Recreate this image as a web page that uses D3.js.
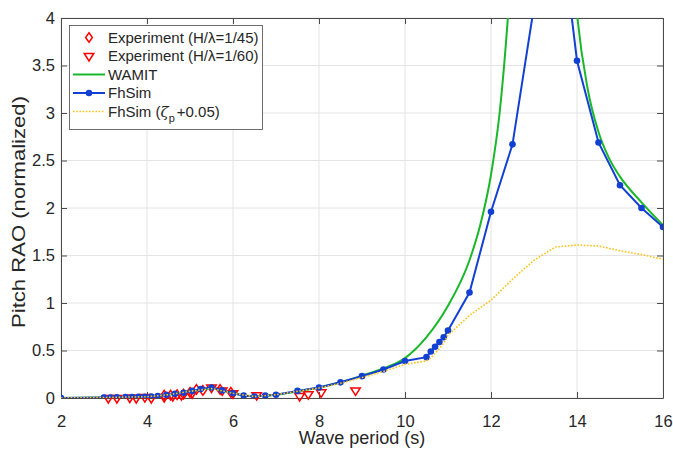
<!DOCTYPE html>
<html>
<head>
<meta charset="utf-8">
<script src="https://cdn.jsdelivr.net/npm/d3@7"></script>
<style>
  html, body { margin: 0; padding: 0; background: #fff; }
  svg { display: block; font-family: "Liberation Sans", Arial, Helvetica, sans-serif; }
</style>
</head>
<body>
<svg id="chart" width="673" height="450"></svg>
<script>
// Pitch RAO versus wave period: experiments, WAMIT and FhSim runs

// Experiment, H/lambda = 1/45 (diamonds)
const exp45Period = [4.4, 4.55, 4.7, 4.85, 5.0, 5.15, 5.3, 5.7, 5.95];
const exp45Value  = [0.03, 0.03, 0.035, 0.04, 0.06, 0.09, 0.08, 0.09, 0.06];

// Experiment, H/lambda = 1/60 (down triangles)
const exp60Period = [3.1, 3.3, 3.6, 3.75, 3.95, 4.1, 4.4, 4.6, 4.8, 5.05, 5.5, 5.75, 6.0, 6.55, 7.55, 7.75, 8.05, 8.85];
const exp60Value  = [0.0, 0.0, 0.005, 0.0, 0.01, 0.0, 0.01, 0.02, 0.03, 0.05, 0.11, 0.08, 0.05, 0.03, 0.02, 0.04, 0.06, 0.08];

// WAMIT (smooth potential-flow curve)
const wamitPeriod = [2, 3, 3.5, 4, 4.5, 5, 5.5, 6, 6.5, 7, 7.5, 8, 8.5, 9, 9.5, 10, 10.5, 11, 11.5, 11.75, 12, 12.2, 12.4, 12.6, 12.8, 13.0, 13.2, 13.4, 13.6, 13.8, 14.0, 14.25, 14.5, 14.75, 15, 15.5, 16];
const wamitValue  = [0, 0.005, 0.01, 0.015, 0.035, 0.07, 0.1, 0.05, 0.02, 0.035, 0.07, 0.11, 0.165, 0.235, 0.31, 0.42, 0.64, 0.97, 1.45, 1.82, 2.35, 3.0, 4.05, 5.5, 8.0, 12.0, 15.0, 11.0, 7.5, 5.3, 4.05, 3.25, 2.8, 2.52, 2.33, 2.06, 1.82];

// FhSim (blue line with markers)
const fhPeriod = [2.0, 3.0, 3.15, 3.3, 3.5, 3.65, 3.8, 3.95, 4.1, 4.25, 4.45, 4.65, 4.85, 5.05, 5.25, 5.5, 5.75, 6.0, 6.25, 6.5, 6.75, 7.0, 7.5, 8.0, 8.5, 9.0, 9.5, 10.0, 10.5, 10.6, 10.7, 10.8, 10.9, 11.0, 11.5, 12.0, 12.5, 13.0, 13.5, 14.0, 14.5, 15.0, 15.5, 16.0];
const fhValue  = [0, 0.005, 0.005, 0.007, 0.01, 0.01, 0.012, 0.013, 0.015, 0.02, 0.035, 0.045, 0.055, 0.075, 0.095, 0.11, 0.08, 0.05, 0.025, 0.015, 0.025, 0.035, 0.075, 0.11, 0.165, 0.23, 0.3, 0.39, 0.43, 0.49, 0.54, 0.59, 0.64, 0.71, 1.11, 1.96, 2.67, 4.12, 5.42, 3.55, 2.69, 2.24, 2.0, 1.8];

// FhSim with added damping (zeta_p + 0.05), dotted
const fhDampPeriod = [2.0, 3.0, 3.5, 4.0, 4.5, 5.0, 5.5, 6.0, 6.5, 7.0, 7.5, 8.0, 8.5, 9.0, 9.5, 10.0, 10.5, 10.6, 10.7, 10.8, 10.9, 11.0, 11.5, 12.0, 12.5, 13.0, 13.5, 14.0, 14.5, 15.0, 15.5, 16.0];
const fhDampValue  = [0, 0.005, 0.01, 0.013, 0.035, 0.07, 0.1, 0.05, 0.015, 0.035, 0.07, 0.105, 0.155, 0.215, 0.28, 0.355, 0.39, 0.42, 0.47, 0.52, 0.58, 0.66, 0.87, 1.03, 1.25, 1.45, 1.59, 1.61, 1.6, 1.55, 1.51, 1.46];

const xTicks = [2, 4, 6, 8, 10, 12, 14, 16];
const yTicks = [0, 0.5, 1, 1.5, 2, 2.5, 3, 3.5, 4];

const legendLabels = ["Experiment (H/\u03BB=1/45)", "Experiment (H/\u03BB=1/60)", "WAMIT", "FhSim"];

const COL_RED = "#ff0000", COL_GREEN = "#19b82a", COL_BLUE = "#1240d2", COL_YEL = "#ffc21a";
const TXT = "#262626";

const svg = d3.select("#chart");
const pL = 61, pR = 663, pT = 18, pB = 398;

const x = d3.scaleLinear().domain([2, 16]).range([pL, pR]);
const y = d3.scaleLinear().domain([0, 4]).range([pB, pT]);

svg.append("defs").append("clipPath").attr("id", "plotClip")
  .append("rect").attr("x", pL).attr("y", pT).attr("width", pR - pL).attr("height", pB - pT);

// grid
const grid = svg.append("g").attr("stroke", "#e4e4e4").attr("stroke-width", 1);
grid.selectAll("line.gx").data(xTicks).join("line")
  .attr("x1", d => x(d)).attr("x2", d => x(d)).attr("y1", pT).attr("y2", pB);
grid.selectAll("line.gy").data(yTicks).join("line")
  .attr("x1", pL).attr("x2", pR).attr("y1", d => y(d)).attr("y2", d => y(d));

// axes (ticks pointing inward on all four sides)
function styleAxis(g) {
  g.select(".domain").attr("stroke", "#4a4a4a");
  g.selectAll(".tick line").attr("stroke", "#4a4a4a");
  g.selectAll(".tick text").attr("fill", TXT).attr("font-size", 16.5);
}
svg.append("g").attr("transform", `translate(0,${pB})`)
  .call(d3.axisBottom(x).tickValues(xTicks).tickSizeInner(-6).tickSizeOuter(0).tickPadding(17).tickFormat(d3.format("d")))
  .call(styleAxis);
svg.append("g").attr("transform", `translate(0,${pT})`)
  .call(d3.axisTop(x).tickValues(xTicks).tickSizeInner(-6).tickSizeOuter(0).tickFormat(""))
  .call(styleAxis);
svg.append("g").attr("transform", `translate(${pL},0)`)
  .call(d3.axisLeft(y).tickValues(yTicks).tickSizeInner(-6).tickSizeOuter(0).tickPadding(6).tickFormat(d => d3.format("")(d)))
  .call(styleAxis);
svg.append("g").attr("transform", `translate(${pR},0)`)
  .call(d3.axisRight(y).tickValues(yTicks).tickSizeInner(-6).tickSizeOuter(0).tickFormat(""))
  .call(styleAxis);
svg.selectAll(".domain").attr("stroke-width", 1);

// marker shapes
const diamondPath = "M0,-4.8L3.4,0L0,4.8L-3.4,0Z";
function triDown(w, h) { // open downward triangle centred on the point
  return `M${-w/2},${-h/3}L${w/2},${-h/3}L0,${2*h/3}Z`;
}
const triPath = triDown(9.5, 7.5);

const plot = svg.append("g");

// experiments
plot.selectAll("path.e45").data(exp45Period.map((p, i) => [p, exp45Value[i]])).join("path")
  .attr("transform", d => `translate(${x(d[0])},${y(d[1])})`)
  .attr("d", diamondPath).attr("fill", "none").attr("stroke", COL_RED).attr("stroke-width", 1.5);
plot.selectAll("path.e60").data(exp60Period.map((p, i) => [p, exp60Value[i]])).join("path")
  .attr("transform", d => `translate(${x(d[0])},${y(d[1])})`)
  .attr("d", triPath).attr("fill", "none").attr("stroke", COL_RED).attr("stroke-width", 1.5);

const lines = svg.append("g").attr("clip-path", "url(#plotClip)");

// WAMIT
lines.append("path")
  .datum(wamitPeriod.map((p, i) => [p, wamitValue[i]]))
  .attr("fill", "none").attr("stroke", COL_GREEN).attr("stroke-width", 2)
  .attr("d", d3.line().x(d => x(d[0])).y(d => y(d[1])).curve(d3.curveMonotoneX));

// FhSim
const fhData = fhPeriod.map((p, i) => [p, fhValue[i]]);
lines.append("path").datum(fhData)
  .attr("fill", "none").attr("stroke", COL_BLUE).attr("stroke-width", 2)
  .attr("d", d3.line().x(d => x(d[0])).y(d => y(d[1])));
lines.selectAll("circle.fh").data(fhData).join("circle")
  .attr("cx", d => x(d[0])).attr("cy", d => y(d[1])).attr("r", 3.3)
  .attr("fill", COL_BLUE);

// FhSim, added damping
lines.append("path")
  .datum(fhDampPeriod.map((p, i) => [p, fhDampValue[i]]))
  .attr("fill", "none").attr("stroke", COL_YEL).attr("stroke-width", 1.6)
  .attr("stroke-dasharray", "1.6,1.6")
  .attr("d", d3.line().x(d => x(d[0])).y(d => y(d[1])));

// legend
const lg = svg.append("g");
lg.append("rect").attr("x", 69.5).attr("y", 25.5).attr("width", 193).attr("height", 104)
  .attr("fill", "#fff").attr("stroke", "#4a4a4a").attr("stroke-width", 0.8);
const rowY = [37.5, 56, 74.5, 93, 111.5];
const sx0 = 73, sx1 = 105, smid = 89, tx = 108;
lg.append("path").attr("transform", `translate(${smid},${rowY[0]})`).attr("d", diamondPath)
  .attr("fill", "none").attr("stroke", COL_RED).attr("stroke-width", 1.5);
lg.append("path").attr("transform", `translate(${smid},${rowY[1]})`).attr("d", triPath)
  .attr("fill", "none").attr("stroke", COL_RED).attr("stroke-width", 1.5);
lg.append("line").attr("x1", sx0).attr("x2", sx1).attr("y1", rowY[2]).attr("y2", rowY[2])
  .attr("stroke", COL_GREEN).attr("stroke-width", 2);
lg.append("line").attr("x1", sx0).attr("x2", sx1).attr("y1", rowY[3]).attr("y2", rowY[3])
  .attr("stroke", COL_BLUE).attr("stroke-width", 2);
lg.append("circle").attr("cx", smid).attr("cy", rowY[3]).attr("r", 3.3).attr("fill", COL_BLUE);
lg.append("line").attr("x1", sx0).attr("x2", sx1).attr("y1", rowY[4]).attr("y2", rowY[4])
  .attr("stroke", COL_YEL).attr("stroke-width", 1.6).attr("stroke-dasharray", "1.6,1.6");

legendLabels.forEach((t, i) => {
  lg.append("text").attr("x", tx).attr("y", rowY[i]).attr("dy", "0.35em")
    .attr("font-size", 15).attr("fill", TXT).text(t);
});
const zt = lg.append("text").attr("x", tx).attr("y", rowY[4]).attr("dy", "0.35em")
  .attr("font-size", 15).attr("fill", TXT);
zt.append("tspan").text("FhSim (");
zt.append("tspan").attr("font-family", "'DejaVu Serif', serif").attr("font-style", "italic").text("\u03B6");
zt.append("tspan").attr("font-size", 11).attr("dy", "5").text("p");
zt.append("tspan").attr("dy", "-5").attr("dx", "2").text("+0.05)");

// axis titles
svg.append("text").attr("x", (pL + pR) / 2).attr("y", 444).attr("text-anchor", "middle")
  .attr("font-size", 18).attr("fill", TXT).text("Wave period (s)");
svg.append("text").attr("transform", `translate(25,212) rotate(-90)`)
  .attr("text-anchor", "middle").attr("font-size", 19)
  .attr("textLength", 232).attr("lengthAdjust", "spacingAndGlyphs")
  .attr("fill", TXT).text("Pitch RAO (normalized)");
</script>
</body>
</html>
